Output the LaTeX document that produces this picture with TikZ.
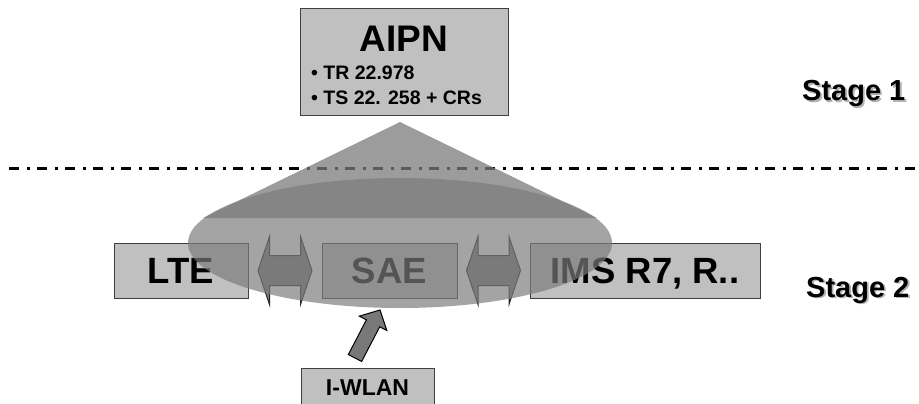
\documentclass[tikz,border=0pt]{standalone}
\usepackage{fontspec}
\setmainfont{Liberation Sans}
\usetikzlibrary{calc,shapes.geometric}
\definecolor{boxgray}{RGB}{192,192,192}
\definecolor{edgegray}{RGB}{64,64,64}
\definecolor{conegray}{RGB}{123,123,123}
\definecolor{arrgray}{RGB}{120,120,120}
\begin{document}
\begin{tikzpicture}[x=1pt,y=-1pt,
  box/.style={draw=edgegray, line width=1pt, fill=boxgray, inner sep=0pt},
  big/.style={font=\fontsize{36.5}{36.5}\bfseries\selectfont, text height=26.1pt, text depth=0pt},
  blockarr/.style={draw=black!85, line width=1pt, fill=arrgray, line join=miter},
  stagetxt/.style={font=\fontsize{29}{29}\bfseries\selectfont, anchor=base west, inner sep=0pt},
  bullettxt/.style={font=\fontsize{19.5}{19.5}\bfseries\selectfont, anchor=base west, inner sep=0pt},
  dblarrow/.pic={\draw[blockarr] (-27,0) -- (-15.5,-34) -- (-15.5,-15) -- (15.5,-15) -- (15.5,-34) -- (27,0) -- (15.5,34) -- (15.5,15) -- (-15.5,15) -- (-15.5,34) -- cycle;}
]
\useasboundingbox (0,0) rectangle (919,404);
\clip (0,0) rectangle (919,404);

% stage 2 boxes
\node[box, big, minimum width=134pt, minimum height=55pt] (lte) at (181,270.5) {LTE};
\node[box, big, minimum width=135pt, minimum height=55pt] (sae) at (389.5,270.5) {SAE};
\node[box, big, minimum width=230pt, minimum height=55pt] (ims) at (645,270.5) {IMS R7, R..};

% double block arrows between boxes
\path ($(lte.east)!0.5!(sae.west)$) pic {dblarrow};
\path ($(sae.east)!0.5!(ims.west)$) pic {dblarrow};

% stage separator
\coordinate (ls) at (9,168);
\coordinate (le) at (919,168);
\draw[line width=3pt, dash pattern=on 10pt off 7.5pt on 3pt off 7.5pt] (ls) -- (le);

% scope ellipse
\node[ellipse, fill=conegray, fill opacity=0.69, minimum width=424pt, minimum height=130pt, inner sep=0pt] (scope) at (400,243) {};

% cone from AIPN
\coordinate (apex) at (400,122);
\coordinate (bl) at (203,218);
\coordinate (br) at (597,218);
\fill[conegray, fill opacity=0.75] (apex) -- (br) -- (bl) -- cycle;

% I-WLAN
\node[box, minimum width=133pt, minimum height=52pt, anchor=north] (iwlanbox) at (367.5,368) {};
\node[font=\fontsize{23}{23}\bfseries\selectfont, anchor=base, inner sep=0pt] (iwlan) at (367.5,395.5) {I-WLAN};

% upward block arrow
\coordinate (tail) at (355,358);
\coordinate (tip) at (380,310);
\coordinate (hb) at ($(tip)!15pt!(tail)$);
\draw[blockarr, fill=arrgray, draw=black]
  ($(tail)!7.5pt!90:(tip)$) -- ($(hb)!7.5pt!-90:(tail)$) -- ($(hb)!15.5pt!-90:(tail)$) -- (tip)
  -- ($(hb)!15.5pt!90:(tail)$) -- ($(hb)!7.5pt!90:(tail)$) -- ($(tail)!7.5pt!-90:(tip)$) -- cycle;

% AIPN box
\node[box, minimum width=208pt, minimum height=106pt] (aipnbox) at (404,62) {};
\node[font=\fontsize{37}{37}\bfseries\selectfont, anchor=base, inner sep=0pt] (aipn) at (404,52) {AIPN};
\node[bullettxt] (tr) at (311,80) {\textbullet{} TR 22.978};
\node[bullettxt] (ts) at (311,105) {\textbullet{} TS 22. 258 + CRs};

% stage labels
\node[stagetxt, text=gray!60] at (803.8,102.8) {Stage 1};
\node[stagetxt] (stage1) at (802,101) {Stage 1};
\node[stagetxt, text=gray!60] at (807.8,298.8) {Stage 2};
\node[stagetxt] (stage2) at (806,297) {Stage 2};
\end{tikzpicture}
\end{document}
